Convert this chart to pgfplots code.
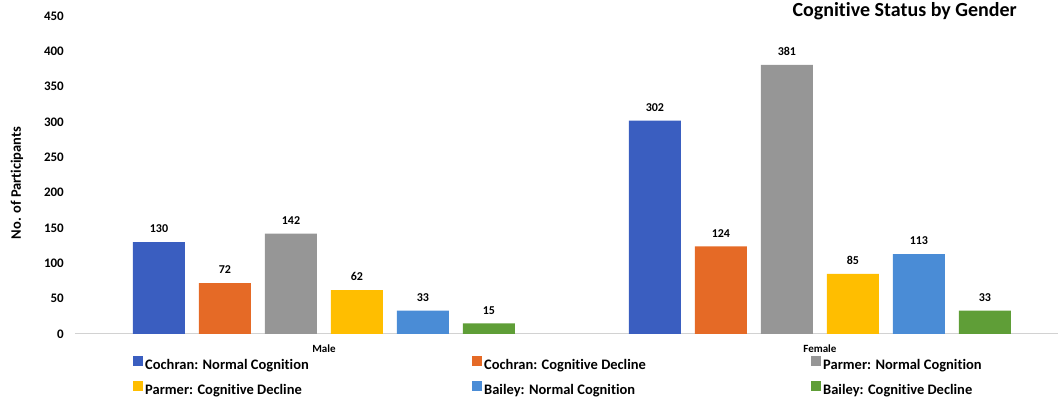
\documentclass[border=0pt]{standalone}
\usepackage{fontspec}
\setmainfont{Carlito}[RawFeature=-liga, RawFeature=-clig, RawFeature=-calt, RawFeature=-dlig]
\usepackage{pgfplots}
\pgfplotsset{compat=1.18}
\definecolor{cBlue}{RGB}{58,94,192}
\definecolor{cOrange}{RGB}{229,106,38}
\definecolor{cGray}{RGB}{150,150,150}
\definecolor{cYellow}{RGB}{255,190,0}
\definecolor{cLBlue}{RGB}{74,140,214}
\definecolor{cGreen}{RGB}{95,158,55}
\definecolor{axgray}{RGB}{210,210,210}
\begin{document}
\begin{tikzpicture}
\useasboundingbox (0,0) rectangle (1061pt,401pt);
\begin{axis}[
  at={(75pt,67pt)}, anchor=south west,
  scale only axis, width=983pt, height=318pt,
  ybar=14pt, bar width=52pt,
  xmin=-0.502, xmax=1.480,
  ymin=0, ymax=450,
  ytick={0,50,...,450},
  xtick={0,1}, xticklabels={Male,Female},
  axis x line*=bottom, axis y line*=left,
  x axis line style={draw=axgray, line width=1pt},
  y axis line style={draw=none},
  major tick length=0pt,
  tick style={draw=none},
  /pgf/number format/assume math mode=true,
  yticklabel style={font=\fontsize{13}{15}\selectfont\bfseries, anchor=east, inner sep=0pt, xshift=-11pt},
  xticklabel style={font=\fontsize{11}{13}\selectfont\bfseries, anchor=north, inner sep=0pt, yshift=-11pt},
  ylabel={No. of Participants},
  every axis y label/.style={at={(rel axis cs:-0.059,0.475)}, rotate=90, anchor=center, font=\fontsize{14.5}{16}\selectfont\bfseries},
  title={Cogni\kern0pt tive Status by Gender},
  title style={font=\fontsize{20}{22}\selectfont\bfseries, at={(rel axis cs:0.844,0.997)}, anchor=center},
  nodes near coords,
  nodes near coords style={font=\fontsize{12}{14}\selectfont\bfseries, anchor=south, inner sep=0pt, yshift=9pt, text=black},
  legend columns=3,
  legend cell align=left,
  legend image code/.code={\fill[#1] (0pt,-1pt) rectangle (10pt,9pt);},
  legend style={draw=none, fill=none, inner sep=0pt, row sep=8pt,
    font=\fontsize{14.5}{17}\selectfont\bfseries,
    at={(rel axis cs:0.059,-0.069)}, anchor=north west},
]
\addplot[fill=cBlue, draw=none] coordinates {(0,130) (1,302)};
\addlegendentry{\makebox[325pt][l]{Cochran: Normal Cognition}}
\addplot[fill=cOrange, draw=none] coordinates {(0,72) (1,124)};
\addlegendentry{\makebox[325pt][l]{Cochran: Cognitive Decline}}
\addplot[fill=cGray, draw=none] coordinates {(0,142) (1,381)};
\addlegendentry{\makebox[225pt][l]{Parmer: Normal Cognition}}
\addplot[fill=cYellow, draw=none] coordinates {(0,62) (1,85)};
\addlegendentry{\makebox[325pt][l]{Parmer: Cognitive Decline}}
\addplot[fill=cLBlue, draw=none] coordinates {(0,33) (1,113)};
\addlegendentry{\makebox[325pt][l]{Bailey: Normal Cognition}}
\addplot[fill=cGreen, draw=none] coordinates {(0,15) (1,33)};
\addlegendentry{\makebox[225pt][l]{Bailey: Cognitive Decline}}
\end{axis}
\end{tikzpicture}
\end{document}
